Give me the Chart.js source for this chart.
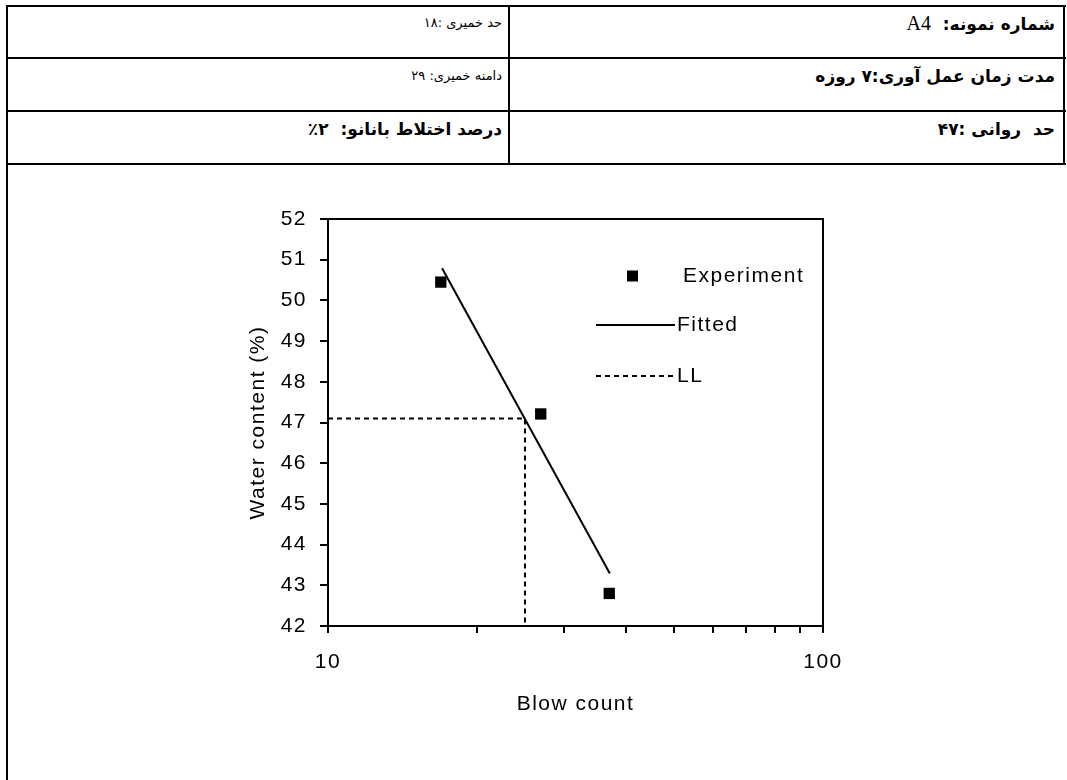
<!DOCTYPE html>
<html>
<head>
<meta charset="utf-8">
<script src="https://cdn.jsdelivr.net/npm/chart.js@4"></script>
<style>
  html, body { margin: 0; padding: 0; background: #fff; }
  body { width: 1067px; height: 780px; position: relative; overflow: hidden; }
  .ln { position: absolute; background: #000; }
  .cell {
    position: absolute; direction: rtl; text-align: right; white-space: pre;
    font-family: 'DejaVu Sans', sans-serif; color: #000; line-height: 20px;
  }
  .b { font-weight: bold; font-size: 17px; }
  .n { font-size: 13px; }
  .lat { font-family: 'Liberation Serif', serif; font-weight: normal; font-size: 20px; }
  #chart { position: absolute; left: 0; top: 0; }
</style>
</head>
<body>
<!-- header table -->
<div class="ln" style="left:6px;top:5px;width:1060px;height:2px"></div>
<div class="ln" style="left:6px;top:57px;width:1060px;height:2px"></div>
<div class="ln" style="left:6px;top:110px;width:1060px;height:2px"></div>
<div class="ln" style="left:6px;top:163px;width:1060px;height:2px"></div>
<div class="ln" style="left:6px;top:5px;width:2px;height:775px"></div>
<div class="ln" style="left:508px;top:5px;width:2px;height:160px"></div>
<div class="ln" style="left:1063px;top:5px;width:2px;height:160px"></div>

<div class="cell b" style="right:12px;top:13px">شماره نمونه:  <span class="lat">A4</span></div>
<div class="cell n" style="right:565px;top:13px">حد خمیری :۱۸</div>
<div class="cell b" style="right:12px;top:66px">مدت زمان عمل آوری:۷ روزه</div>
<div class="cell n" style="right:565px;top:66px">دامنه خمیری: ۲۹</div>
<div class="cell b" style="right:12px;top:119px">حد  روانی :۴۷</div>
<div class="cell b" style="right:565px;top:119px">درصد اختلاط بانانو:  ۲٪</div>

<canvas id="chart" width="1067" height="780"></canvas>

<script>
// Blow count vs water content (liquid limit test)
const expBlows = [16.9, 26.9, 37.0];
const expWater = [50.45, 47.21, 42.80];

const fitBlows = [17.0, 37.1];
const fitWater = [50.79, 43.29];

const llBlows = [10, 25, 25];
const llWater = [47.1, 47.1, 42];

const xTicks = [10, 20, 30, 40, 50, 60, 70, 80, 90, 100];
const xTickLabels = [10, 100];
const yMin = 42;
const yMax = 52;

const toPoints = (xs, ys) => xs.map((x, i) => ({ x: x, y: ys[i] }));

const SPACING = '1.5px';

// canvas letter spacing so Arial-like text is as wide as in the original
const spacingPlugin = {
  id: 'spacing',
  beforeUpdate(chart) { chart.ctx.letterSpacing = SPACING; },
  beforeDraw(chart) { chart.ctx.letterSpacing = SPACING; }
};

// top and right sides of the plot frame
const framePlugin = {
  id: 'frame',
  afterDraw(chart) {
    const a = chart.chartArea;
    const ctx = chart.ctx;
    ctx.save();
    ctx.strokeStyle = '#000';
    ctx.lineWidth = 2;
    ctx.beginPath();
    ctx.moveTo(a.left, a.top);
    ctx.lineTo(a.right, a.top);
    ctx.lineTo(a.right, a.bottom);
    ctx.stroke();
    ctx.restore();
  }
};

// legend placed inside the plot, top right
const insideLegend = {
  id: 'insideLegend',
  afterDraw(chart) {
    const a = chart.chartArea;
    const ctx = chart.ctx;
    const ds = chart.data.datasets;
    const rows = [a.top + 57, a.top + 106, a.top + 157];
    ctx.save();
    ctx.font = '21px "Liberation Sans", Arial, sans-serif';
    ctx.fillStyle = '#000';
    ctx.textBaseline = 'middle';
    ctx.textAlign = 'left';

    // Experiment
    ctx.fillRect(a.right - 196, rows[0] - 5.5, 11, 11);
    ctx.fillText(ds[0].label, a.right - 140, rows[0]);

    // Fitted
    ctx.strokeStyle = '#000';
    ctx.lineWidth = ds[1].borderWidth;
    ctx.beginPath();
    ctx.moveTo(a.right - 227, rows[1]);
    ctx.lineTo(a.right - 148, rows[1]);
    ctx.stroke();
    ctx.fillText(ds[1].label, a.right - 146, rows[1]);

    // LL
    ctx.lineWidth = ds[2].borderWidth;
    ctx.setLineDash(ds[2].borderDash);
    ctx.beginPath();
    ctx.moveTo(a.right - 227, rows[2]);
    ctx.lineTo(a.right - 148, rows[2]);
    ctx.stroke();
    ctx.setLineDash([]);
    ctx.fillText(ds[2].label, a.right - 146, rows[2]);
    ctx.restore();
  }
};

Chart.defaults.font.family = '"Liberation Sans", Arial, sans-serif';
Chart.defaults.font.size = 21;
Chart.defaults.color = '#000';

new Chart(document.getElementById('chart'), {
  type: 'scatter',
  data: {
    datasets: [{
      label: 'Experiment',
      data: toPoints(expBlows, expWater),
      pointStyle: 'rect',
      pointRadius: 8,
      pointHoverRadius: 8,
      backgroundColor: '#000',
      borderColor: '#000',
      borderWidth: 0,
      showLine: false
    }, {
      label: 'Fitted',
      data: toPoints(fitBlows, fitWater),
      showLine: true,
      borderColor: '#000',
      borderWidth: 2,
      pointRadius: 0,
      fill: false
    }, {
      label: 'LL',
      data: toPoints(llBlows, llWater),
      showLine: true,
      borderColor: '#000',
      borderWidth: 2,
      borderDash: [5, 4],
      pointRadius: 0,
      fill: false
    }]
  },
  options: {
    responsive: false,
    animation: false,
    devicePixelRatio: 1,
    layout: {
      padding: { left: 242, right: 244, top: 219, bottom: 59 }
    },
    plugins: {
      legend: { display: false },
      tooltip: { enabled: false }
    },
    scales: {
      x: {
        type: 'logarithmic',
        min: 10,
        max: 100,
        afterBuildTicks: function(scale) {
          scale.ticks = xTicks.map(v => ({ value: v }));
        },
        afterFit: function(scale) { scale.height = 95; },
        grid: {
          drawOnChartArea: false,
          color: '#000',
          lineWidth: 2,
          tickLength: 7
        },
        border: { display: true, color: '#000', width: 2 },
        ticks: {
          autoSkip: false,
          maxRotation: 0,
          padding: 17,
          callback: function(value) {
            return xTickLabels.includes(value) ? String(value) : '';
          }
        },
        title: { display: true, text: 'Blow count', padding: { top: 4, bottom: 4 } }
      },
      y: {
        min: yMin,
        max: yMax,
        afterFit: function(scale) { scale.width = 86; },
        grid: {
          drawOnChartArea: false,
          color: '#000',
          lineWidth: 2,
          tickLength: 8
        },
        border: { display: true, color: '#000', width: 2 },
        ticks: { stepSize: 1, padding: 13 },
        title: { display: true, text: 'Water content (%)', padding: { top: 4, bottom: 4 } }
      }
    }
  },
  plugins: [spacingPlugin, framePlugin, insideLegend]
});
</script>
</body>
</html>
